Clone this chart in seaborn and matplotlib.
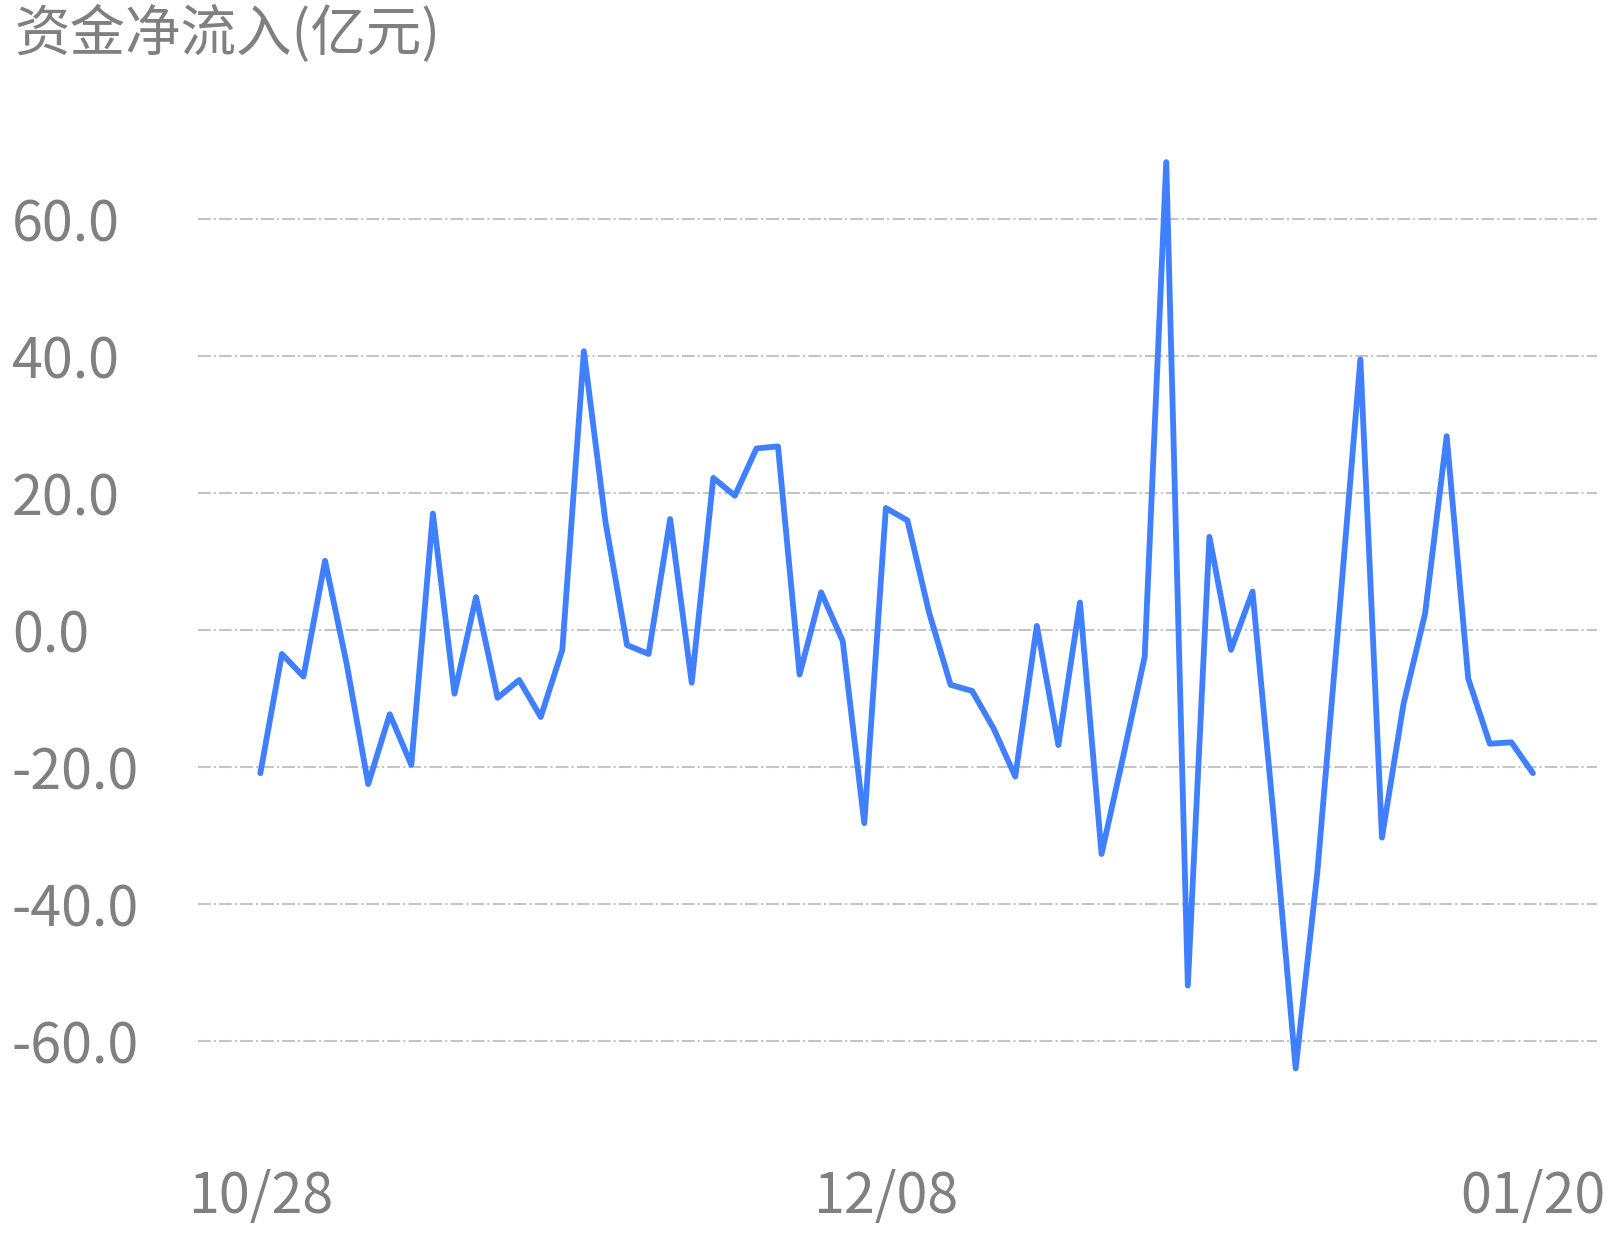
import numpy as np
import pandas as pd
import seaborn as sns
from matplotlib import pyplot as plt

# trading days 2022-10-28 .. 2023-01-20 (2023-01-02 holiday)
days = pd.bdate_range('2022-10-28', '2023-01-20')
days = days[days != pd.Timestamp('2023-01-02')]
dates = [d.strftime('%m/%d') for d in days]

net_inflow = [
	-20.9, -3.5, -6.8, 10.1, -4.9, -22.5, -12.3, -19.7, 17.0, -9.3,
	4.8, -9.9, -7.3, -12.7, -2.9, 40.7, 15.8, -2.2, -3.5, 16.2,
	-7.7, 22.2, 19.6, 26.5, 26.8, -6.5, 5.5, -1.6, -28.2, 17.8,
	16.0, 2.6, -8.0, -8.9, -14.4, -21.4, 0.6, -16.8, 4.0, -32.7,
	-18.5, -3.9, 68.3, -51.9, 13.6, -2.9, 5.6, -28.0, -64.0, -35.5,
	1.6, 39.5, -30.3, -10.8, 2.4, 28.3, -7.1, -16.6, -16.4, -20.9,
]
y_ticks = [-60, -40, -20, 0, 20, 40, 60]
x_labels = ['10/28', '12/08', '01/20']

title = '资金净流入(亿元)'
gray = '#808080'

sns.set_style('white')
plt.rcParams['font.family'] = ['Noto Sans CJK SC', 'DejaVu Sans']

df = pd.DataFrame({'idx': np.arange(len(dates)), 'date': dates, 'value': net_inflow})

fig = plt.figure(figsize=(16.18, 12.36), dpi=100)
ax = fig.add_axes([198 / 1618, 1 - 1143.75 / 1236, 1399 / 1618, 1027.5 / 1236])

sns.lineplot(data=df, x='idx', y='value', color='#4080FF', linewidth=4.2, ax=ax)

ax.set_xlim(-2.89, 61.97)
ax.set_ylim(-75, 75)
ax.set_yticks(y_ticks)
ax.set_yticklabels(['{:.1f}'.format(v) for v in y_ticks], ha='left')
tick_pos = [dates.index(d) for d in x_labels]
ax.set_xticks(tick_pos)
ax.set_xticklabels(x_labels)
ax.tick_params(axis='y', length=0, pad=134, labelsize=40, labelcolor=gray)
ax.tick_params(axis='x', length=0, pad=18, labelsize=40, labelcolor=gray)
ax.set_xlabel('')
ax.set_ylabel('')
for s in ax.spines.values():
	s.set_visible(False)
ax.grid(False)
for v in y_ticks:
	ax.axhline(v, color='#C4C4C4', linewidth=1.5, linestyle=(0, (6.1, 1.5, 1.0, 1.5)), zorder=0)

fig.text(14 / 1618, 1 - 6 / 1236, title, fontsize=40, color=gray, ha='left', va='top')

plt.savefig('out.png', dpi=100)
